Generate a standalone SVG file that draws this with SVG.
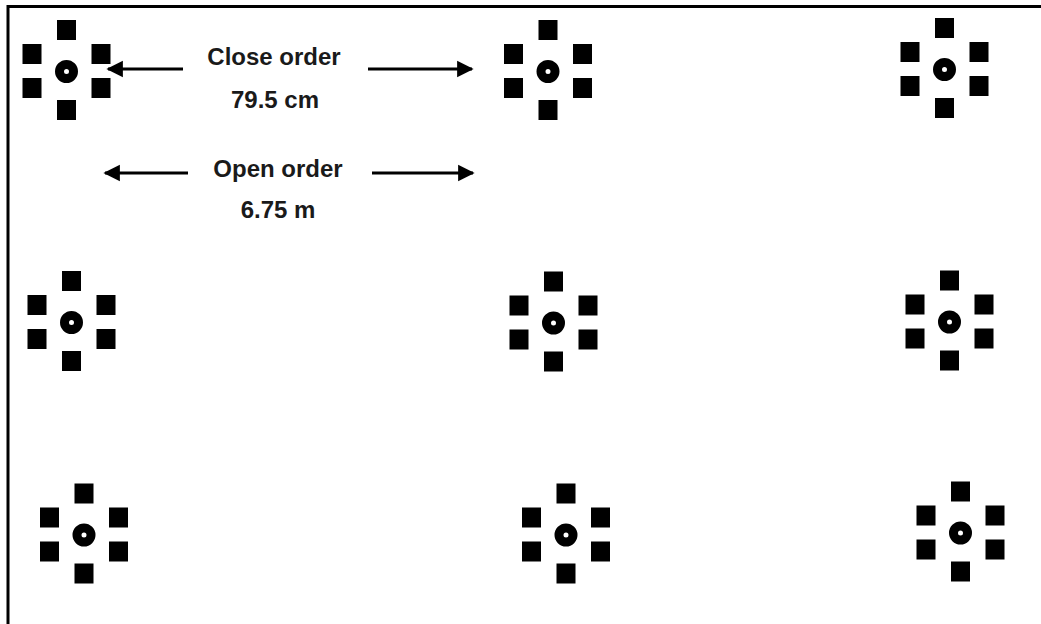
<svg xmlns="http://www.w3.org/2000/svg" xmlns:xlink="http://www.w3.org/1999/xlink" width="1041" height="624" viewBox="0 0 1041 624">
<style>
.sq{fill:#000}
.ring{fill:none;stroke:#000;stroke-width:9}
.lbl{font-family:"Liberation Sans",Arial,sans-serif;font-weight:bold;font-size:24px;fill:#1a1a1a;text-anchor:middle}
.arr{stroke:#000;stroke-width:3;fill:none;marker-end:url(#ah)}
</style>
<defs>
<marker id="ah" viewBox="0 0 10 10" refX="9" refY="5" markerWidth="5.5" markerHeight="6" markerUnits="strokeWidth" orient="auto">
<path d="M0,0 L10,5 L0,10 Z" fill="#000"/>
</marker>
<g id="cluster">
<rect class="sq" x="-9.5" y="-50" width="19" height="20"/>
<rect class="sq" x="-44" y="-26" width="19" height="20"/>
<rect class="sq" x="25" y="-26" width="19" height="20"/>
<rect class="sq" x="-44" y="8" width="19" height="20"/>
<rect class="sq" x="25" y="8" width="19" height="20"/>
<rect class="sq" x="-9.5" y="30" width="19" height="20"/>
<circle class="ring" cx="0" cy="1.5" r="7"/>
</g>
</defs>
<rect x="0" y="0" width="1041" height="624" fill="#fff"/>
<g id="border">
<line x1="8" y1="6.5" x2="1041" y2="6.5" stroke="#000" stroke-width="3"/>
<line x1="8" y1="5" x2="8" y2="624" stroke="#000" stroke-width="3"/>
</g>
<g id="node-r1c1"><use xlink:href="#cluster" href="#cluster" x="66.5" y="70"/></g>
<g id="node-r1c2"><use xlink:href="#cluster" href="#cluster" x="548" y="70"/></g>
<g id="node-r1c3"><use xlink:href="#cluster" href="#cluster" x="944.5" y="68"/></g>
<g id="node-r2c1"><use xlink:href="#cluster" href="#cluster" x="71.5" y="321"/></g>
<g id="node-r2c2"><use xlink:href="#cluster" href="#cluster" x="553.5" y="321.5"/></g>
<g id="node-r2c3"><use xlink:href="#cluster" href="#cluster" x="949.5" y="320.5"/></g>
<g id="node-r3c1"><use xlink:href="#cluster" href="#cluster" x="84" y="533.5"/></g>
<g id="node-r3c2"><use xlink:href="#cluster" href="#cluster" x="566" y="533.5"/></g>
<g id="node-r3c3"><use xlink:href="#cluster" href="#cluster" x="960.5" y="531.5"/></g>
<g id="connectors">
<line class="arr" x1="183" y1="69" x2="108" y2="69"/>
<line class="arr" x1="368" y1="69" x2="472" y2="69"/>
<line class="arr" x1="188" y1="173" x2="105" y2="173"/>
<line class="arr" x1="372" y1="173" x2="473" y2="173"/>
</g>
<g id="labels">
<text class="lbl" x="274" y="65">Close order</text>
<text class="lbl" x="275" y="108">79.5 cm</text>
<text class="lbl" x="278" y="177">Open order</text>
<text class="lbl" x="278" y="218">6.75 m</text>
</g>
</svg>
